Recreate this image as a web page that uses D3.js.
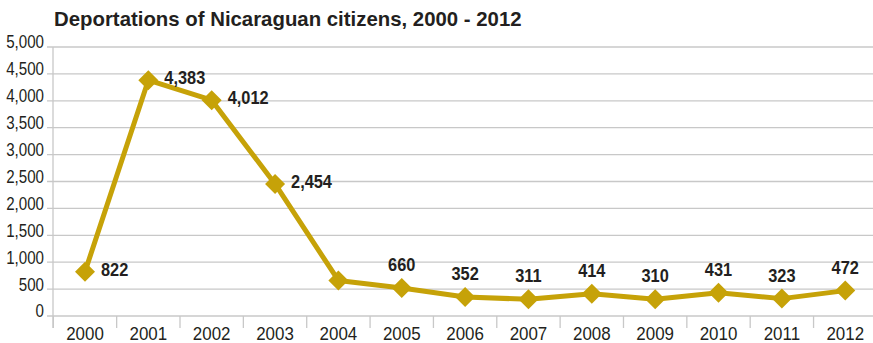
<!DOCTYPE html>
<html>
<head>
<meta charset="utf-8">
<script src="https://cdn.jsdelivr.net/npm/d3@7"></script>
<style>
  body { margin: 0; background: #fff; }
  text { fill: #231f20; }
</style>
</head>
<body>
<div id="chart"></div>
<script>
// deportations per year
var years = ["2000", "2001", "2002", "2003", "2004", "2005", "2006", "2007", "2008", "2009", "2010", "2011", "2012"];
var deported = [822, 4383, 4012, 2454, 660, 520, 352, 311, 414, 310, 431, 323, 472];
// the printed labels (2004 has none, 2005 carries "660" in the original)
var labelText = ["822", "4,383", "4,012", "2,454", "", "660", "352", "311", "414", "310", "431", "323", "472"];
var yTicks = [0, 500, 1000, 1500, 2000, 2500, 3000, 3500, 4000, 4500, 5000];

var width = 873, height = 343;
var gold = "#c6a208", grid = "#c8c8c8";

var svg = d3.select("#chart").append("svg")
    .attr("width", width)
    .attr("height", height)
    .style("font-family", "'Liberation Sans', Arial, sans-serif");

// squeeze text a bit to look like the condensed face of the original
function condense(sel, k) {
    sel.each(function() {
        var len = this.getComputedTextLength();
        if (len > 0) {
            d3.select(this).attr("textLength", len * k).attr("lengthAdjust", "spacingAndGlyphs");
        }
    });
}

var x = d3.scaleBand().domain(years).range([53.3, 876.9]);
var y = d3.scaleLinear().domain([0, 5000]).range([316, 47]);

// title
svg.append("text")
    .attr("x", 54).attr("y", 26)
    .style("font-size", "21px")
    .style("font-weight", "bold")
    .text("Deportations of Nicaraguan citizens, 2000 - 2012")
    .call(condense, 0.97);

// gridlines
svg.append("g").selectAll("line")
    .data(yTicks)
    .enter().append("line")
    .attr("x1", 47).attr("x2", width)
    .attr("y1", function(d){ return y(d); })
    .attr("y2", function(d){ return y(d); })
    .attr("stroke", grid).attr("stroke-width", 1.3);

// y axis
var yAxis = svg.append("g")
    .attr("transform", "translate(53,0)")
    .call(d3.axisLeft(y).tickValues(yTicks).tickSize(0).tickPadding(9).tickFormat(d3.format(",")));
yAxis.select(".domain").remove();
yAxis.selectAll("text")
    .attr("dy", "0.05em")
    .style("font-size", "18px")
    .style("fill", "#231f20")
    .call(condense, 0.84);

svg.append("line")
    .attr("x1", 53).attr("x2", 53)
    .attr("y1", y(5000)).attr("y2", 328)
    .attr("stroke", grid).attr("stroke-width", 1.3);

// x axis
var xAxis = svg.append("g")
    .attr("transform", "translate(0,316)")
    .call(d3.axisBottom(x).tickSize(0).tickPadding(10.5));
xAxis.select(".domain").remove();
xAxis.selectAll("text")
    .style("font-size", "18.5px")
    .style("fill", "#231f20")
    .call(condense, 0.915);

// category boundary ticks
svg.append("g").selectAll("line")
    .data(years)
    .enter().append("line")
    .attr("x1", function(d){ return x(d); })
    .attr("x2", function(d){ return x(d); })
    .attr("y1", 316).attr("y2", 328)
    .attr("stroke", grid).attr("stroke-width", 1.3);

var cx = function(i){ return x(years[i]) + x.bandwidth() / 2; };

// line
var line = d3.line()
    .x(function(d, i){ return cx(i); })
    .y(function(d){ return y(d); });

svg.append("path")
    .datum(deported)
    .attr("d", line)
    .attr("fill", "none")
    .attr("stroke", gold)
    .attr("stroke-width", 5)
    .attr("stroke-linejoin", "round");

// diamond markers
var diamond = d3.symbol().type(d3.symbolSquare).size(200);
svg.append("g").selectAll("path")
    .data(deported)
    .enter().append("path")
    .attr("d", diamond)
    .attr("transform", function(d, i){ return "translate(" + cx(i) + "," + y(d) + ") rotate(45)"; })
    .attr("fill", gold);

// value labels: first four sit right of the point, the rest above it
svg.append("g").selectAll("text")
    .data(deported)
    .enter().append("text")
    .attr("x", function(d, i){ return i < 4 ? cx(i) + 16 : cx(i); })
    .attr("y", function(d, i){ return i < 4 ? y(d) - 2 : y(d) - 17; })
    .attr("dy", function(d, i){ return i < 4 ? "0.35em" : "0"; })
    .attr("text-anchor", function(d, i){ return i < 4 ? "start" : "middle"; })
    .style("font-size", "17.7px")
    .style("font-weight", "bold")
    .text(function(d, i){ return labelText[i]; })
    .call(condense, 0.925);
</script>
</body>
</html>
